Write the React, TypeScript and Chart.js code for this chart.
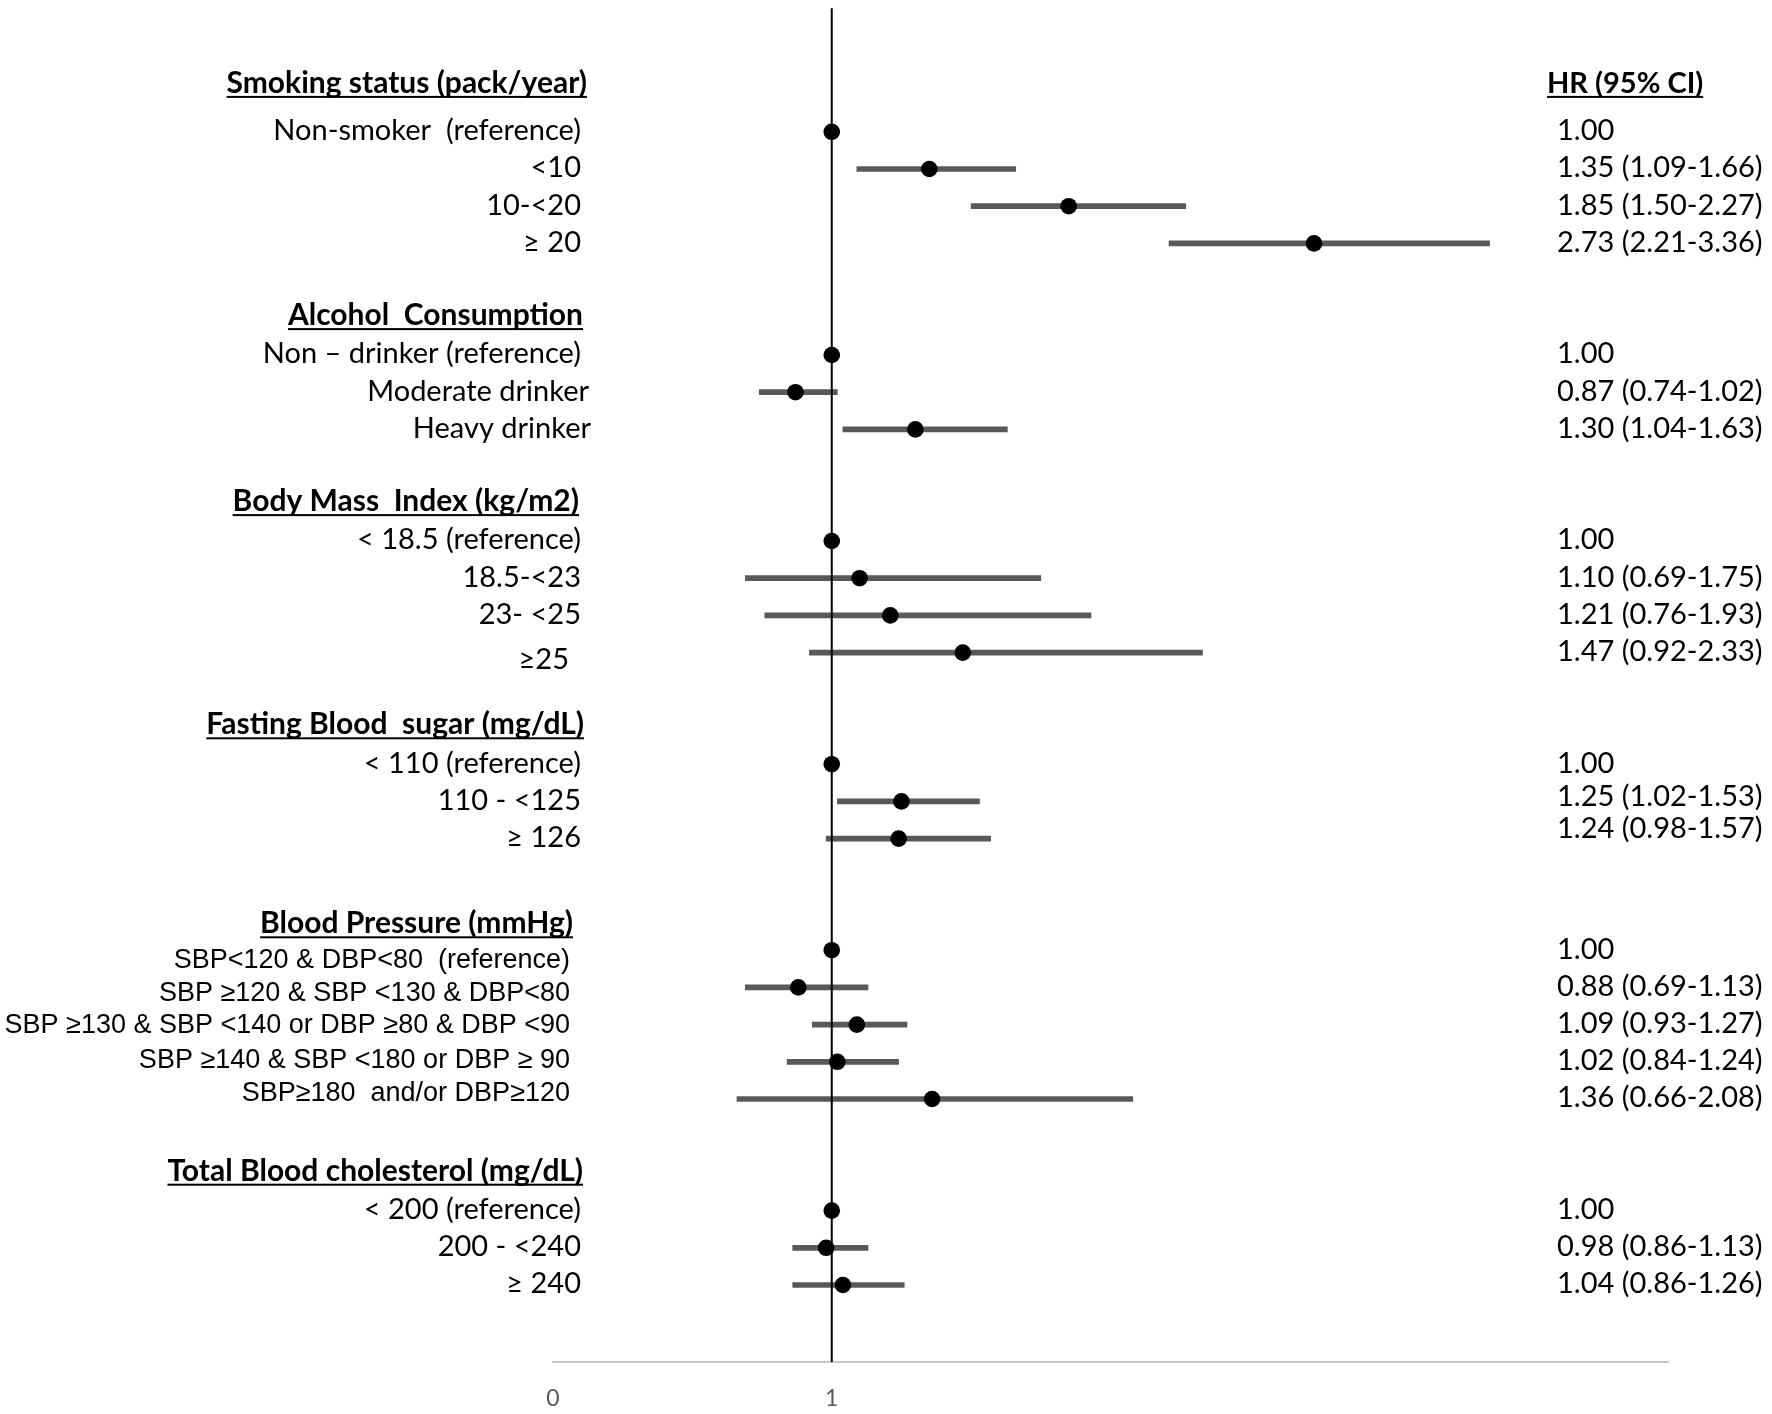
import React, { useEffect, useRef } from 'react';
import { Chart, registerables } from 'chart.js';

Chart.register(...registerables);

// ---------------- data ----------------
const groupTitles = [
  'Smoking status (pack/year)',
  'Alcohol  Consumption',
  'Body Mass  Index (kg/m2)',
  'Fasting Blood  sugar (mg/dL)',
  'Blood Pressure (mmHg)',
  'Total Blood cholesterol (mg/dL)',
];

const smokingLabels = ['Non-smoker  (reference)', '<10', '10-<20', '≥ 20'];
const smokingHR = [1.0, 1.35, 1.85, 2.73];
const smokingLower = [null, 1.09, 1.5, 2.21];
const smokingUpper = [null, 1.66, 2.27, 3.36];

const alcoholLabels = ['Non – drinker (reference)', 'Moderate drinker', 'Heavy drinker'];
const alcoholHR = [1.0, 0.87, 1.3];
const alcoholLower = [null, 0.74, 1.04];
const alcoholUpper = [null, 1.02, 1.63];

const bmiLabels = ['< 18.5 (reference)', '18.5-<23', '23- <25', '≥25'];
const bmiHR = [1.0, 1.1, 1.21, 1.47];
const bmiLower = [null, 0.69, 0.76, 0.92];
const bmiUpper = [null, 1.75, 1.93, 2.33];

const fbsLabels = ['< 110 (reference)', '110 - <125', '≥ 126'];
const fbsHR = [1.0, 1.25, 1.24];
const fbsLower = [null, 1.02, 0.98];
const fbsUpper = [null, 1.53, 1.57];

const bpLabels = [
  'SBP<120 & DBP<80  (reference)',
  'SBP ≥120 & SBP <130 & DBP<80',
  'SBP ≥130 & SBP <140 or DBP ≥80 & DBP <90',
  'SBP ≥140 & SBP <180 or DBP ≥ 90',
  'SBP≥180  and/or DBP≥120',
];
const bpHR = [1.0, 0.88, 1.09, 1.02, 1.36];
const bpLower = [null, 0.69, 0.93, 0.84, 0.66];
const bpUpper = [null, 1.13, 1.27, 1.24, 2.08];

const cholLabels = ['< 200 (reference)', '200 - <240', '≥ 240'];
const cholHR = [1.0, 0.98, 1.04];
const cholLower = [null, 0.86, 0.86];
const cholUpper = [null, 1.13, 1.26];

const columnTitle = 'HR (95% CI)';
const xTickValues = [0, 1];
const xMin = 0;
const xMax = 4;

// ---------------- layout / style ----------------
const W = 1772;
const H = 1414;
const LABEL_SIZE = 29;
const HEADER_SIZE = 30;
const BP_SIZE = 27;
const VALUE_SIZE = 29;
const COLTITLE_SIZE = 29;
const LABEL_FONT = `${LABEL_SIZE}px Lato`;
const HEADER_FONT = `bold ${HEADER_SIZE}px Lato`;
const COLTITLE_FONT = `bold ${COLTITLE_SIZE}px Lato`;
const BP_FONT = `${BP_SIZE}px "Liberation Sans", Arial, sans-serif`;
const VALUE_FONT = `${VALUE_SIZE}px Lato`;
const LABEL_RIGHT = 581;
const BP_LABEL_RIGHT = 570;
const HEADER_RIGHT = 583;
const VALUE_LEFT = 1557;
const COLTITLE_LEFT = 1547;
const TEXT_SHIFT = -2; // px from row centre to visual text centre
const HEADER_SHIFT = -1.5;
const headerNudgeY = [-9, 0, 0, 0, 13, 0];
const headerNudgeX = [4, 0, -4, 1, -10, 0];
const labelNudgeY: Record<string, number> = { '2-3': 8, '4-0': 10, '4-1': 6, '4-2': 1, '4-3': -2, '4-4': -6 };
const labelNudgeX: Record<string, number> = { '1-1': 8, '1-2': 10, '2-3': -12 };
const valueNudgeY: Record<string, number> = { '3-1': -4, '3-2': -9 };

type Group = { title: string; labels: string[]; hr: number[]; lo: (number | null)[]; hi: (number | null)[] };
const groups: Group[] = [
  { title: groupTitles[0], labels: smokingLabels, hr: smokingHR, lo: smokingLower, hi: smokingUpper },
  { title: groupTitles[1], labels: alcoholLabels, hr: alcoholHR, lo: alcoholLower, hi: alcoholUpper },
  { title: groupTitles[2], labels: bmiLabels, hr: bmiHR, lo: bmiLower, hi: bmiUpper },
  { title: groupTitles[3], labels: fbsLabels, hr: fbsHR, lo: fbsLower, hi: fbsUpper },
  { title: groupTitles[4], labels: bpLabels, hr: bpHR, lo: bpLower, hi: bpUpper },
  { title: groupTitles[5], labels: cholLabels, hr: cholHR, lo: cholLower, hi: cholUpper },
];

type Row = {
  kind: 'header' | 'item';
  text: string;
  g: number;
  i: number;
  pos: number;
  hr?: number;
  lo?: number | null;
  hi?: number | null;
};

const rows: Row[] = [];
(() => {
  let pos = 0;
  groups.forEach((g, gi) => {
    rows.push({ kind: 'header', text: g.title, g: gi, i: -1, pos: pos++ });
    g.labels.forEach((l, i) => {
      rows.push({ kind: 'item', text: l, g: gi, i, pos: pos++, hr: g.hr[i], lo: g.lo[i], hi: g.hi[i] });
    });
    pos += 1; // blank row between groups
  });
})();

const itemRows = rows.filter((r) => r.kind === 'item');
const ciRows = itemRows.filter((r) => r.lo != null && r.hi != null);

const fmt = (v: number) => v.toFixed(2);

const vLinePlugin = {
  id: 'refLine',
  afterDatasetDraw(chart: any, args: any) {
    if (args.index !== 0) return;
    const { ctx, chartArea, scales } = chart;
    const px = scales.x.getPixelForValue(1);
    ctx.save();
    ctx.strokeStyle = '#000000';
    ctx.lineWidth = 2;
    ctx.beginPath();
    ctx.moveTo(px, chartArea.top);
    ctx.lineTo(px, chartArea.bottom);
    ctx.stroke();
    ctx.restore();
  },
};

const textPlugin = {
  id: 'forestText',
  afterDraw(chart: any) {
    const { ctx, scales } = chart;
    const y = scales.y;
    ctx.save();
    ctx.fillStyle = '#000000';
    ctx.textBaseline = 'alphabetic';
    const base = (py: number, size: number) => py + TEXT_SHIFT + size * 0.36;

    rows.forEach((r) => {
      const py = y.getPixelForValue(r.pos);
      if (r.kind === 'header') {
        const yy = base(py + headerNudgeY[r.g] + HEADER_SHIFT, HEADER_SIZE);
        const hx = HEADER_RIGHT + headerNudgeX[r.g];
        ctx.font = HEADER_FONT;
        ctx.textAlign = 'right';
        ctx.fillText(r.text, hx, yy);
        const w = ctx.measureText(r.text).width;
        ctx.fillRect(hx - w, yy + 3, w, 2);
        if (r.g === 0) {
          ctx.font = COLTITLE_FONT;
          ctx.textAlign = 'left';
          ctx.fillText(columnTitle, COLTITLE_LEFT, yy);
          const w2 = ctx.measureText(columnTitle).width;
          ctx.fillRect(COLTITLE_LEFT, yy + 3, w2, 2);
        }
      } else {
        const key = `${r.g}-${r.i}`;
        const isBP = r.g === 4;
        ctx.font = isBP ? BP_FONT : LABEL_FONT;
        ctx.textAlign = 'right';
        const ly = base(py + (labelNudgeY[key] || 0), isBP ? BP_SIZE : LABEL_SIZE);
        const lx = (isBP ? BP_LABEL_RIGHT : LABEL_RIGHT) + (labelNudgeX[key] || 0);
        ctx.fillText(r.text, lx, ly);

        ctx.font = VALUE_FONT;
        ctx.textAlign = 'left';
        const val =
          r.lo != null && r.hi != null
            ? `${fmt(r.hr as number)} (${fmt(r.lo)}-${fmt(r.hi)})`
            : fmt(r.hr as number);
        ctx.fillText(val, VALUE_LEFT, base(py + (valueNudgeY[key] || 0), VALUE_SIZE));
      }
    });
    ctx.restore();
  },
};

export default function App() {
  const ref = useRef<HTMLCanvasElement | null>(null);

  useEffect(() => {
    if (!ref.current) return;
    const chart = new Chart(ref.current, {
      type: 'bar',
      data: {
        datasets: [
          {
            type: 'bar',
            indexAxis: 'y',
            data: ciRows.map((r) => ({ x: [r.lo as number, r.hi as number], y: r.pos })),
            backgroundColor: '#595959',
            borderWidth: 0,
            barThickness: 5,
            grouped: false,
            order: 2,
          } as any,
          {
            type: 'scatter',
            data: itemRows.map((r) => ({ x: r.hr as number, y: r.pos })),
            pointRadius: 8.3,
            pointHoverRadius: 8.3,
            pointBackgroundColor: '#000000',
            pointBorderWidth: 0,
            showLine: false,
            order: 1,
          } as any,
        ],
      },
      options: {
        animation: false,
        responsive: true,
        maintainAspectRatio: false,
        layout: { padding: { left: 553, right: 104, top: 5, bottom: 0 } },
        plugins: { legend: { display: false }, tooltip: { enabled: false } },
        events: [],
        scales: {
          x: {
            type: 'linear',
            min: xMin,
            max: xMax,
            offset: false,
            beginAtZero: false,
            afterBuildTicks: (s: any) => {
              s.ticks = xTickValues.map((v) => ({ value: v }));
            },
            afterFit: (s: any) => {
              s.height = 52;
            },
            grid: { display: false, drawTicks: false, offset: false },
            border: { display: true, color: '#c8c8c8', width: 2 },
            ticks: {
              color: '#595959',
              font: { family: 'Lato', size: 23 },
              padding: 23,
              autoSkip: false,
              maxRotation: 0,
              callback: (v: any) => String(v),
            },
          },
          y: {
            type: 'linear',
            display: false,
            reverse: true,
            offset: false,
            beginAtZero: false,
            grid: { offset: false },
            min: -2.32,
            max: 34.07,
          },
        },
      } as any,
      plugins: [vLinePlugin, textPlugin],
    });
    return () => chart.destroy();
  }, []);

  return (
    <div style={{ position: 'fixed', left: 0, top: 0, width: W, height: H, background: '#ffffff' }}>
      <canvas ref={ref} />
    </div>
  );
}
